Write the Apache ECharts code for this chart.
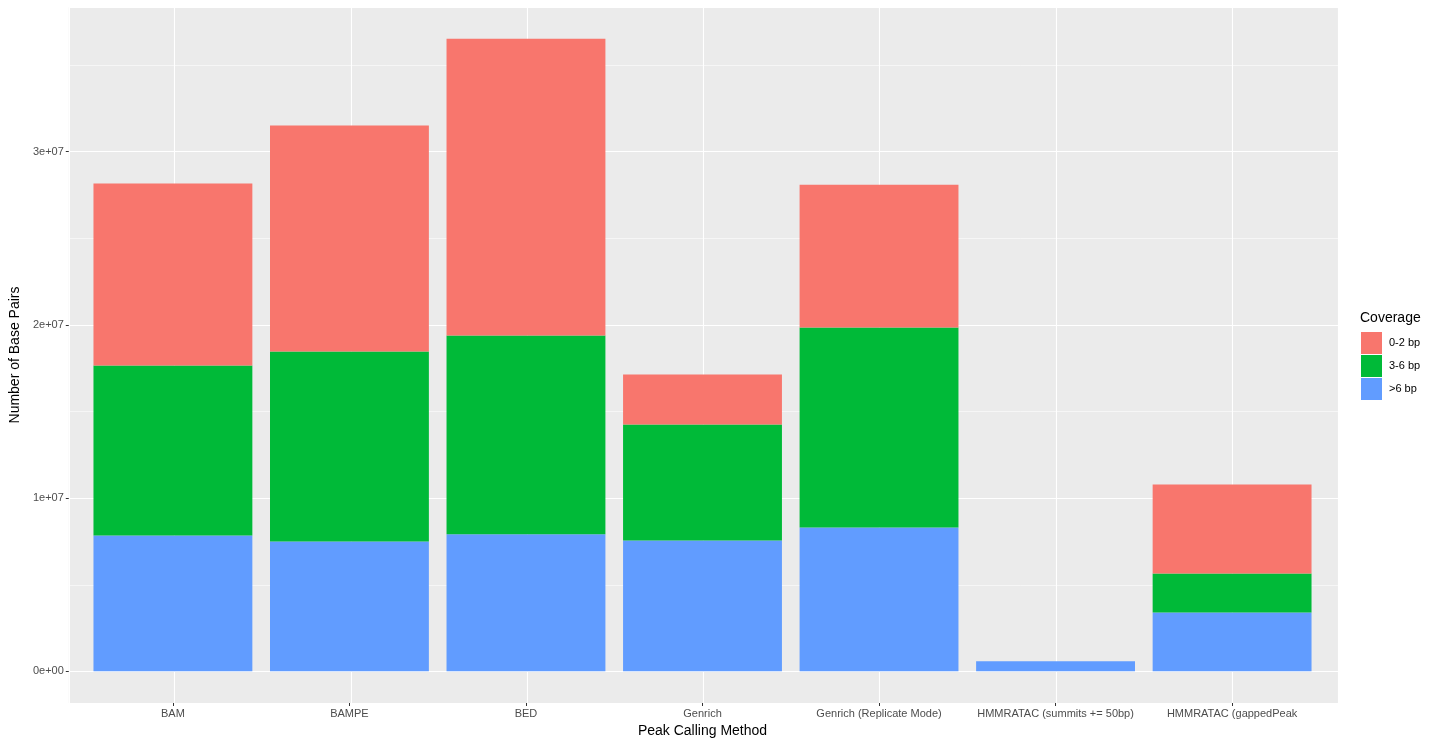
<!DOCTYPE html>
<html>
<head>
<meta charset="utf-8">
<script src="https://cdn.jsdelivr.net/npm/echarts@6/dist/echarts.min.js"></script>
<style>
  html, body { margin: 0; padding: 0; background: #fff; }
  #chart { width: 1440px; height: 745px; }
</style>
</head>
<body>
<div id="chart"></div>
<script>
var methods = ['BAM', 'BAMPE', 'BED', 'Genrich', 'Genrich (Replicate Mode)',
  'HMMRATAC (summits += 50bp)', 'HMMRATAC (gappedPeak'];
// stacked from the bottom: >6 bp, then 3-6 bp, then 0-2 bp
var over6 = [7.85e6, 7.50e6, 7.91e6, 7.56e6, 8.31e6, 0.58e6, 3.40e6];
var cov3to6 = [9.81e6, 10.96e6, 11.48e6, 6.69e6, 11.54e6, 0, 2.25e6];
var cov0to2 = [10.50e6, 13.05e6, 17.14e6, 2.89e6, 8.25e6, 0, 5.14e6];
var coverageNames = ['0-2 bp', '3-6 bp', '>6 bp'];

var font = 'Liberation Sans, Arial, sans-serif';

// ggplot style expansion: 5% of the data range on each side
var totals = methods.map(function (m, i) { return over6[i] + cov3to6[i] + cov0to2[i]; });
var topVal = Math.max.apply(null, totals);
var yMin = -0.05 * topVal;
var yMax = 1.05 * topVal;

function sci(v) {
  if (v === 0) return '0e+00';
  var parts = v.toExponential(0).split('e');
  var exp = parts[1];
  var sign = exp[0];
  var digits = exp.slice(1);
  if (digits.length < 2) digits = '0' + digits;
  return parts[0] + 'e' + sign + digits;
}

var chart = echarts.init(document.getElementById('chart'));

var option = {
  animation: false,
  title: {
    text: 'Coverage',
    left: 1360,
    top: 311,
    padding: 0,
    textStyle: { fontFamily: font, fontSize: 14, fontWeight: 'normal', color: '#000' }
  },
  legend: {
    data: coverageNames,
    orient: 'vertical',
    left: 1361,
    top: 332,
    padding: 0,
    icon: 'rect',
    itemWidth: 21,
    itemHeight: 22,
    itemGap: 1,
    selectedMode: false,
    textStyle: { fontFamily: font, fontSize: 11, color: '#000', padding: [0, 0, 0, 2] }
  },
  grid: [
    { left: 67, top: 7, width: 1271, height: 696, show: true, backgroundColor: '#EBEBEB', borderWidth: 0 },
    { left: 84.65, top: 7, width: 1235.7, height: 696 }
  ],
  xAxis: [
    {
      gridIndex: 0, type: 'value', min: -0.6, max: methods.length - 1 + 0.6, splitNumber: 7,
      axisLine: { show: false, onZero: false }, axisTick: { show: false }, axisLabel: { show: false },
      splitLine: { show: true, lineStyle: { color: '#fff', width: 1.1 } }
    },
    {
      gridIndex: 1, type: 'category', data: methods, position: 'bottom',
      axisLine: { show: false, onZero: false },
      axisTick: { show: true, alignWithLabel: true, length: 3, lineStyle: { color: '#333', width: 1 } },
      axisLabel: { interval: 0, margin: 5, fontFamily: font, fontSize: 11, color: '#4D4D4D' },
      splitLine: { show: false },
      name: 'Peak Calling Method',
      nameLocation: 'middle',
      nameGap: 20,
      nameTextStyle: { fontFamily: font, fontSize: 14, color: '#000' }
    }
  ],
  yAxis: [
    {
      gridIndex: 0, type: 'value', min: yMin, max: yMax, splitNumber: 4, position: 'left',
      axisLine: { show: false, onZero: false },
      axisTick: { show: true, length: 3, lineStyle: { color: '#333', width: 1 } },
      axisLabel: { showMinLabel: false, showMaxLabel: false, margin: 5, fontFamily: font, fontSize: 11, color: '#4D4D4D', formatter: sci },
      splitLine: { show: true, lineStyle: { color: '#fff', width: 1.1 } },
      name: 'Number of Base Pairs',
      nameLocation: 'middle',
      nameGap: 46,
      nameTextStyle: { fontFamily: font, fontSize: 14, color: '#000' }
    },
    {
      gridIndex: 0, type: 'value', min: yMin, max: yMax, splitNumber: 8, position: 'left',
      axisLine: { show: false, onZero: false }, axisTick: { show: false }, axisLabel: { show: false },
      splitLine: { show: true, lineStyle: { color: '#fff', width: 0.55 } }
    },
    {
      gridIndex: 1, type: 'value', min: yMin, max: yMax, show: false
    }
  ],
  series: [
    { name: '>6 bp', type: 'bar', stack: 'cov', xAxisIndex: 1, yAxisIndex: 2, barWidth: '90%', data: over6, itemStyle: { color: '#619CFF' } },
    { name: '3-6 bp', type: 'bar', stack: 'cov', xAxisIndex: 1, yAxisIndex: 2, barWidth: '90%', data: cov3to6, itemStyle: { color: '#00BA38' } },
    { name: '0-2 bp', type: 'bar', stack: 'cov', xAxisIndex: 1, yAxisIndex: 2, barWidth: '90%', data: cov0to2, itemStyle: { color: '#F8766D' } }
  ]
};

chart.setOption(option);
</script>
</body>
</html>
